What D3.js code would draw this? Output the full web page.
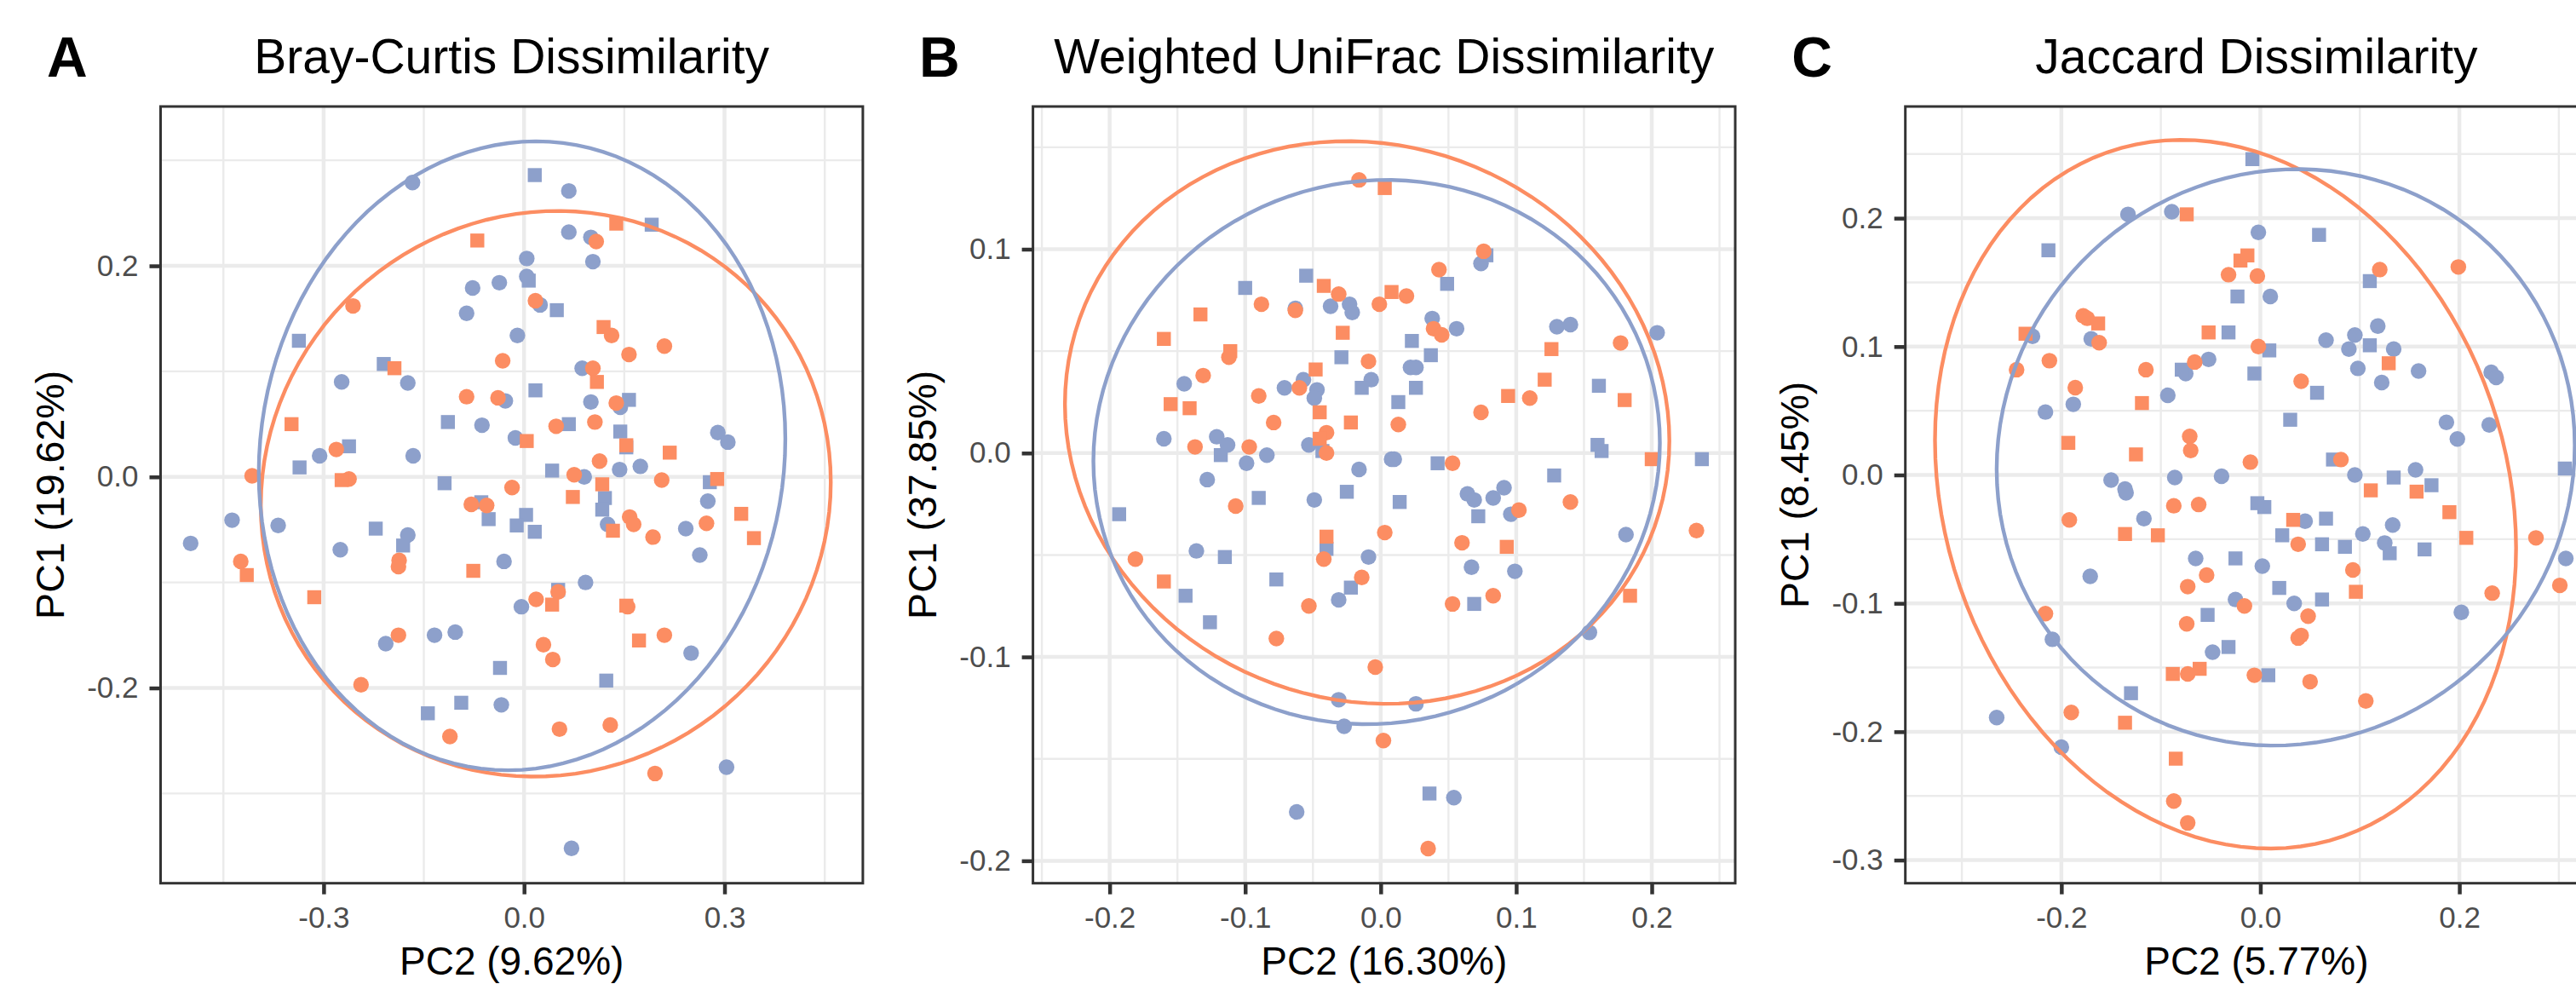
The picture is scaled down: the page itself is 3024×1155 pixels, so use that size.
<!DOCTYPE html>
<html>
<head>
<meta charset="utf-8">
<script src="https://cdn.jsdelivr.net/npm/d3@7"></script>
<style>
  body { margin: 0; background: #fff; }
  text { font-family: "Liberation Sans", Arial, sans-serif; }
</style>
</head>
<body>
<div id="chart"></div>
<script>
// ---- data (PC2, PC1) ----
// A: Bray-Curtis
let brayBlueCircle = [[-0.167,0.279],[0.067,0.271],[0.067,0.232],[0.100,0.227],[0.103,0.204],[0.004,0.207],[0.004,0.190],[-0.037,0.184],[-0.077,0.179],[-0.086,0.155],[0.024,0.163],[-0.010,0.134],[0.087,0.103],[-0.273,0.090],[-0.174,0.089],[-0.028,0.072],[0.100,0.071],[0.144,0.066],[-0.063,0.049],[-0.013,0.037],[0.290,0.042],[0.305,0.033],[-0.306,0.020],[-0.166,0.020],[0.174,0.010],[0.143,0.007],[0.090,0.000],[-0.437,-0.041],[-0.368,-0.046],[-0.499,-0.063],[-0.275,-0.069],[-0.174,-0.055],[0.275,-0.023],[0.242,-0.049],[0.263,-0.074],[-0.030,-0.080],[0.092,-0.100],[-0.004,-0.123],[-0.207,-0.158],[-0.134,-0.150],[-0.103,-0.147],[0.250,-0.167],[-0.034,-0.216],[0.303,-0.275],[0.071,-0.352],[0.125,-0.045]];
let brayBlueSquare = [[0.016,0.286],[0.191,0.239],[0.007,0.186],[0.049,0.158],[-0.337,0.129],[-0.210,0.107],[0.017,0.082],[0.157,0.073],[-0.114,0.052],[0.067,0.050],[0.144,0.043],[0.153,0.028],[-0.262,0.029],[-0.336,0.009],[-0.119,-0.006],[0.042,0.006],[0.278,-0.005],[-0.064,-0.024],[-0.053,-0.040],[0.003,-0.036],[-0.011,-0.046],[0.016,-0.052],[0.121,-0.020],[0.117,-0.031],[-0.222,-0.049],[-0.181,-0.065],[0.051,-0.107],[-0.036,-0.181],[0.123,-0.193],[-0.144,-0.224],[-0.094,-0.214]];
let brayOrangeCircle = [[0.108,0.223],[-0.256,0.162],[0.017,0.167],[0.131,0.134],[0.157,0.116],[0.210,0.124],[-0.032,0.110],[0.103,0.103],[-0.086,0.076],[-0.039,0.075],[0.138,0.070],[0.048,0.048],[0.106,0.052],[-0.281,0.026],[-0.407,0.001],[-0.262,-0.002],[0.113,0.015],[0.075,0.002],[0.206,-0.003],[-0.018,-0.010],[-0.079,-0.026],[-0.056,-0.027],[0.158,-0.038],[0.164,-0.045],[0.193,-0.057],[0.273,-0.044],[-0.424,-0.080],[-0.187,-0.079],[-0.188,-0.085],[0.018,-0.116],[0.051,-0.109],[0.155,-0.123],[-0.188,-0.150],[0.210,-0.150],[0.029,-0.159],[0.043,-0.173],[-0.244,-0.197],[-0.111,-0.246],[0.053,-0.239],[0.129,-0.235],[0.196,-0.281]];
let brayOrangeSquare = [[0.138,0.240],[-0.070,0.224],[0.119,0.142],[-0.194,0.103],[0.109,0.090],[-0.348,0.050],[0.004,0.034],[0.218,0.023],[0.153,0.030],[-0.273,-0.003],[0.289,-0.002],[0.117,-0.007],[0.073,-0.019],[0.133,-0.051],[0.325,-0.035],[0.344,-0.058],[-0.415,-0.093],[-0.314,-0.114],[-0.076,-0.089],[0.042,-0.121],[0.153,-0.122],[0.172,-0.155]];

// B: Weighted UniFrac
let unifracBlueCircle = [[0.074,0.093],[-0.037,0.072],[-0.023,0.073],[-0.021,0.069],[-0.063,0.071],[0.038,0.066],[0.056,0.061],[0.130,0.062],[0.140,0.063],[0.204,0.059],[-0.145,0.034],[-0.071,0.032],[-0.057,0.036],[-0.047,0.031],[-0.049,0.027],[-0.007,0.036],[0.022,0.042],[0.026,0.042],[-0.160,0.007],[-0.121,0.008],[-0.113,0.004],[-0.053,0.004],[-0.099,-0.005],[-0.084,-0.001],[0.008,-0.003],[0.010,-0.003],[-0.016,-0.008],[-0.128,-0.013],[-0.049,-0.023],[0.064,-0.020],[0.069,-0.023],[0.083,-0.022],[0.091,-0.017],[0.096,-0.030],[0.181,-0.040],[-0.136,-0.048],[-0.009,-0.051],[0.067,-0.056],[0.099,-0.058],[-0.031,-0.072],[0.154,-0.088],[-0.031,-0.121],[0.026,-0.123],[-0.027,-0.134],[-0.062,-0.176],[0.054,-0.169]];
let unifracBlueSquare = [[-0.055,0.087],[-0.100,0.081],[0.049,0.083],[0.078,0.097],[-0.029,0.047],[0.023,0.055],[0.037,0.048],[-0.014,0.032],[0.013,0.025],[0.026,0.032],[0.161,0.033],[0.160,0.004],[0.163,0.001],[0.237,-0.003],[-0.118,-0.001],[-0.043,0.001],[0.042,-0.005],[0.128,-0.011],[-0.090,-0.022],[-0.025,-0.019],[0.014,-0.024],[0.072,-0.031],[-0.193,-0.030],[-0.115,-0.051],[-0.077,-0.062],[-0.144,-0.070],[-0.126,-0.083],[-0.022,-0.066],[0.069,-0.074],[0.036,-0.167],[-0.040,-0.047]];
let unifracOrangeCircle = [[-0.016,0.134],[0.076,0.099],[0.043,0.090],[-0.031,0.078],[-0.001,0.073],[0.019,0.077],[-0.088,0.073],[-0.063,0.070],[0.039,0.061],[0.045,0.058],[-0.009,0.045],[-0.112,0.047],[-0.131,0.038],[-0.060,0.032],[-0.090,0.028],[-0.079,0.015],[0.013,0.014],[0.074,0.020],[0.110,0.027],[0.177,0.054],[-0.137,0.003],[-0.097,0.003],[-0.040,0.010],[-0.040,0.000],[0.053,-0.005],[-0.107,-0.026],[0.140,-0.024],[0.102,-0.028],[0.003,-0.039],[0.060,-0.044],[0.233,-0.038],[-0.181,-0.052],[-0.042,-0.052],[-0.014,-0.061],[-0.053,-0.075],[0.053,-0.074],[0.083,-0.070],[-0.077,-0.091],[-0.004,-0.105],[0.002,-0.141],[0.035,-0.194]];
let unifracOrangeSquare = [[0.003,0.130],[-0.042,0.082],[0.008,0.079],[-0.133,0.068],[-0.160,0.056],[-0.111,0.050],[-0.028,0.059],[-0.048,0.041],[-0.045,0.020],[-0.022,0.015],[-0.155,0.024],[-0.141,0.022],[-0.045,0.007],[0.094,0.028],[0.121,0.036],[0.126,0.051],[0.180,0.026],[0.200,-0.003],[-0.040,-0.041],[0.093,-0.046],[-0.160,-0.063],[0.184,-0.070]];

// C: Jaccard
let jaccardBlueCircle = [[-0.133,0.203],[-0.089,0.205],[-0.002,0.189],[0.010,0.139],[-0.229,0.108],[-0.170,0.106],[0.066,0.105],[0.095,0.109],[0.089,0.098],[0.118,0.116],[0.134,0.098],[0.098,0.083],[0.122,0.072],[0.159,0.081],[0.232,0.080],[0.237,0.076],[-0.052,0.090],[-0.075,0.079],[-0.093,0.062],[-0.216,0.049],[-0.188,0.055],[0.187,0.041],[0.198,0.028],[0.230,0.039],[-0.150,-0.004],[-0.136,-0.011],[-0.135,-0.014],[-0.086,-0.002],[-0.039,-0.001],[0.095,0.000],[0.156,0.004],[-0.117,-0.034],[0.045,-0.036],[0.103,-0.046],[0.125,-0.053],[0.133,-0.039],[-0.065,-0.065],[0.002,-0.071],[0.307,-0.065],[-0.171,-0.079],[-0.025,-0.097],[0.034,-0.100],[0.202,-0.107],[-0.209,-0.128],[-0.048,-0.138],[-0.265,-0.189],[-0.200,-0.212]];
let jaccardBlueSquare = [[-0.008,0.246],[0.059,0.187],[-0.213,0.175],[-0.023,0.139],[0.110,0.151],[-0.032,0.111],[0.009,0.097],[0.110,0.101],[-0.079,0.082],[-0.006,0.079],[0.057,0.064],[0.030,0.043],[0.073,0.012],[0.134,-0.002],[0.172,-0.008],[0.306,0.005],[-0.003,-0.022],[0.004,-0.025],[0.066,-0.034],[0.022,-0.047],[0.062,-0.054],[0.085,-0.056],[0.130,-0.061],[0.165,-0.058],[-0.025,-0.065],[0.019,-0.088],[0.062,-0.097],[-0.053,-0.109],[-0.032,-0.134],[0.008,-0.156],[-0.130,-0.170]];
let jaccardOrangeCircle = [[0.120,0.160],[0.199,0.162],[-0.032,0.156],[-0.003,0.155],[-0.178,0.124],[-0.174,0.122],[-0.162,0.103],[-0.212,0.089],[-0.245,0.082],[-0.186,0.068],[-0.115,0.082],[-0.066,0.088],[-0.002,0.100],[0.041,0.073],[-0.071,0.030],[-0.070,0.019],[-0.010,0.010],[0.081,0.012],[-0.192,-0.035],[-0.087,-0.024],[-0.062,-0.023],[0.038,-0.054],[0.277,-0.049],[0.093,-0.074],[-0.054,-0.078],[-0.073,-0.087],[0.301,-0.086],[0.233,-0.092],[-0.016,-0.102],[0.048,-0.110],[-0.216,-0.108],[-0.074,-0.116],[0.038,-0.127],[0.041,-0.125],[-0.073,-0.155],[-0.006,-0.156],[0.050,-0.161],[0.106,-0.176],[-0.190,-0.185],[-0.087,-0.254],[-0.073,-0.271]];
let jaccardOrangeSquare = [[-0.074,0.203],[-0.020,0.167],[-0.013,0.171],[-0.236,0.110],[-0.163,0.118],[-0.052,0.111],[0.129,0.087],[-0.119,0.056],[-0.193,0.025],[-0.125,0.016],[0.111,-0.012],[0.157,-0.013],[0.190,-0.029],[0.207,-0.049],[0.033,-0.035],[-0.136,-0.046],[-0.103,-0.047],[0.096,-0.091],[-0.088,-0.155],[-0.061,-0.151],[-0.136,-0.193],[-0.085,-0.221]];

// ellipses: [centre x, centre y, half width, half height, y at rightmost point]
let brayEllipses = { blue: [-0.003, 0.020, 0.394, 0.298, 0.036], orange: [0.0325, -0.016, 0.4265, 0.268, -0.005] };
let unifracEllipses = { blue: [-0.003, 0.0005, 0.209, 0.1335, 0.005], orange: [-0.010, 0.015, 0.223, 0.138, 0.006] };
let jaccardEllipses = { blue: [0.0255, 0.0137, 0.2905, 0.2245, 0.023], orange: [-0.035, -0.015, 0.292, 0.276, -0.057] };

// ticks
let brayXTicks = [-0.3, 0, 0.3], brayXMinor = [-0.45, -0.15, 0.15, 0.45];
let brayYTicks = [-0.2, 0, 0.2], brayYMinor = [-0.3, -0.1, 0.1, 0.3];
let unifracXTicks = [-0.2, -0.1, 0, 0.1, 0.2], unifracXMinor = [-0.25, -0.15, -0.05, 0.05, 0.15, 0.25];
let unifracYTicks = [-0.2, -0.1, 0, 0.1], unifracYMinor = [-0.15, -0.05, 0.05, 0.15];
let jaccardXTicks = [-0.2, 0, 0.2], jaccardXMinor = [-0.3, -0.1, 0.1, 0.3];
let jaccardYTicks = [-0.3, -0.2, -0.1, 0, 0.1, 0.2], jaccardYMinor = [-0.25, -0.15, -0.05, 0.05, 0.15, 0.25];

let panels = [
    { label: "A", title: "Bray-Curtis Dissimilarity", xTitle: "PC2 (9.62%)", yTitle: "PC1 (19.62%)",
      xDomain: [-0.544, 0.507], yDomain: [-0.385, 0.351],
      xTicks: brayXTicks, xMinor: brayXMinor, yTicks: brayYTicks, yMinor: brayYMinor,
      blueCircle: brayBlueCircle, blueSquare: brayBlueSquare, orangeCircle: brayOrangeCircle, orangeSquare: brayOrangeSquare,
      ellipses: brayEllipses },
    { label: "B", title: "Weighted UniFrac Dissimilarity", xTitle: "PC2 (16.30%)", yTitle: "PC1 (37.85%)",
      xDomain: [-0.2566, 0.2616], yDomain: [-0.211, 0.170],
      xTicks: unifracXTicks, xMinor: unifracXMinor, yTicks: unifracYTicks, yMinor: unifracYMinor,
      blueCircle: unifracBlueCircle, blueSquare: unifracBlueSquare, orangeCircle: unifracOrangeCircle, orangeSquare: unifracOrangeSquare,
      ellipses: unifracEllipses },
    { label: "C", title: "Jaccard Dissimilarity", xTitle: "PC2 (5.77%)", yTitle: "PC1 (8.45%)",
      xDomain: [-0.3568, 0.349], yDomain: [-0.318, 0.287],
      xTicks: jaccardXTicks, xMinor: jaccardXMinor, yTicks: jaccardYTicks, yMinor: jaccardYMinor,
      blueCircle: jaccardBlueCircle, blueSquare: jaccardBlueSquare, orangeCircle: jaccardOrangeCircle, orangeSquare: jaccardOrangeSquare,
      ellipses: jaccardEllipses }
];

const BLUE = "#8DA0CB", ORANGE = "#FC8D62";
const width = 3024, height = 1155;
const panelStep = 1024.1, plotLeft0 = 188.5, plotW = 824.4, plotTop = 125, plotBottom = 1036.7;

let fmt = d3.formatLocale({ decimal: ".", thousands: ",", grouping: [3], currency: ["", ""], minus: "-" }).format(".1f");

let svg = d3.select("#chart").append("svg")
    .attr("width", width)
    .attr("height", height)
    .style("background", "#fff");

function ellipsePoints(e) {
    // e = [cx, cy, halfW, halfH, yAtRight]
    let q1 = e[4] - e[1];
    let q2 = Math.sqrt(Math.max(e[3] * e[3] - q1 * q1, 0));
    return d3.range(0, 361, 3).map(deg => {
        let t = deg * Math.PI / 180;
        return [e[0] + e[2] * Math.cos(t), e[1] + q1 * Math.cos(t) + q2 * Math.sin(t)];
    });
}

panels.forEach((p, i) => {
    let left = plotLeft0 + i * panelStep;
    let x = d3.scaleLinear().domain(p.xDomain).range([left, left + plotW]);
    let y = d3.scaleLinear().domain(p.yDomain).range([plotBottom, plotTop]);
    let g = svg.append("g");

    // panel label + title
    g.append("text")
        .attr("x", 55 + i * panelStep)
        .attr("y", 90)
        .attr("font-size", 66)
        .attr("font-weight", "bold")
        .attr("fill", "#000")
        .text(p.label);
    g.append("text")
        .attr("x", left + plotW / 2)
        .attr("y", 86)
        .attr("text-anchor", "middle")
        .attr("font-size", 57)
        .attr("fill", "#000")
        .text(p.title);

    // grid
    let grid = g.append("g");
    grid.selectAll(".xminor").data(p.xMinor.filter(v => v > p.xDomain[0] && v < p.xDomain[1])).enter()
        .append("line")
        .attr("x1", d => x(d)).attr("x2", d => x(d))
        .attr("y1", plotTop).attr("y2", plotBottom)
        .attr("stroke", "#EBEBEB").attr("stroke-width", 2.4);
    grid.selectAll(".yminor").data(p.yMinor.filter(v => v > p.yDomain[0] && v < p.yDomain[1])).enter()
        .append("line")
        .attr("y1", d => y(d)).attr("y2", d => y(d))
        .attr("x1", left).attr("x2", left + plotW)
        .attr("stroke", "#EBEBEB").attr("stroke-width", 2.4);
    grid.selectAll(".xmajor").data(p.xTicks).enter()
        .append("line")
        .attr("x1", d => x(d)).attr("x2", d => x(d))
        .attr("y1", plotTop).attr("y2", plotBottom)
        .attr("stroke", "#EBEBEB").attr("stroke-width", 4.5);
    grid.selectAll(".ymajor").data(p.yTicks).enter()
        .append("line")
        .attr("y1", d => y(d)).attr("y2", d => y(d))
        .attr("x1", left).attr("x2", left + plotW)
        .attr("stroke", "#EBEBEB").attr("stroke-width", 4.5);

    // points
    let pts = g.append("g");
    let r = 9.2, s = 16.4;
    function circles(data, col) {
        pts.selectAll(null).data(data).enter()
            .append("circle")
            .attr("cx", d => x(d[0]))
            .attr("cy", d => y(d[1]))
            .attr("r", r)
            .attr("fill", col);
    }
    function squares(data, col) {
        pts.selectAll(null).data(data).enter()
            .append("rect")
            .attr("x", d => x(d[0]) - s / 2)
            .attr("y", d => y(d[1]) - s / 2)
            .attr("width", s)
            .attr("height", s)
            .attr("fill", col);
    }
    circles(p.blueCircle, BLUE);
    squares(p.blueSquare, BLUE);
    circles(p.orangeCircle, ORANGE);
    squares(p.orangeSquare, ORANGE);

    // ellipses
    let line = d3.line().x(d => x(d[0])).y(d => y(d[1])).curve(d3.curveLinearClosed);
    g.append("path")
        .attr("d", line(ellipsePoints(p.ellipses.orange)))
        .attr("fill", "none").attr("stroke", ORANGE).attr("stroke-width", 4.4);
    g.append("path")
        .attr("d", line(ellipsePoints(p.ellipses.blue)))
        .attr("fill", "none").attr("stroke", BLUE).attr("stroke-width", 4.4);

    // border
    g.append("rect")
        .attr("x", left).attr("y", plotTop)
        .attr("width", plotW).attr("height", plotBottom - plotTop)
        .attr("fill", "none").attr("stroke", "#333333").attr("stroke-width", 3);

    // axes
    let xAxis = g.append("g")
        .attr("transform", "translate(0," + plotBottom + ")")
        .call(d3.axisBottom(x).tickValues(p.xTicks).tickFormat(fmt).tickSize(13).tickPadding(14).tickSizeOuter(0));
    let yAxis = g.append("g")
        .attr("transform", "translate(" + left + ",0)")
        .call(d3.axisLeft(y).tickValues(p.yTicks).tickFormat(fmt).tickSize(13).tickPadding(13).tickSizeOuter(0));
    [xAxis, yAxis].forEach(a => {
        a.select(".domain").remove();
        a.selectAll(".tick line").attr("stroke", "#333333").attr("stroke-width", 4.5);
        a.selectAll(".tick text")
            .attr("fill", "#4D4D4D")
            .attr("font-size", 35)
            .attr("font-family", "'Liberation Sans', Arial, sans-serif");
    });

    // axis titles
    g.append("text")
        .attr("x", left + plotW / 2)
        .attr("y", 1144)
        .attr("text-anchor", "middle")
        .attr("font-size", 46)
        .attr("fill", "#000")
        .text(p.xTitle);
    g.append("text")
        .attr("transform", "translate(" + (left - 113.5) + "," + ((plotTop + plotBottom) / 2) + ") rotate(-90)")
        .attr("text-anchor", "middle")
        .attr("font-size", 46.5)
        .attr("fill", "#000")
        .text(p.yTitle);
});
</script>
</body>
</html>
